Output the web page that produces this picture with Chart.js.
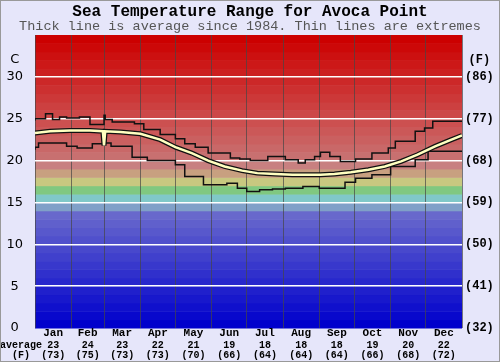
<!DOCTYPE html>
<html>
<head>
<meta charset="utf-8">
<script src="https://cdn.jsdelivr.net/npm/chart.js@4"></script>
<style>
  body { margin: 0; background: #e6e6fa; }
</style>
</head>
<body>
<canvas id="myChart" width="500" height="362"></canvas>
<script>
// months along the bottom, with the average in C and F
const months = ['Jan', 'Feb', 'Mar', 'Apr', 'May', 'Jun', 'Jul', 'Aug', 'Sep', 'Oct', 'Nov', 'Dec'];
const avgC = ['23', '24', '23', '22', '21', '19', '18', '18', '18', '19', '20', '22'];
const avgF = ['(73)', '(75)', '(73)', '(73)', '(70)', '(66)', '(64)', '(64)', '(64)', '(66)', '(68)', '(72)'];
const monthStart = [0, 31, 59, 90, 120, 151, 181, 212, 243, 273, 304, 334, 365];
const monthMid = [15.5, 45, 74.5, 105, 135.5, 166, 196.5, 227.5, 258, 288.5, 319, 349.5];

// y axis ticks
const tempTicks = [0, 5, 10, 15, 20, 25, 30];
const fahrTicks = ['(32)', '(41)', '(50)', '(59)', '(68)', '(77)', '(86)'];

// thin line: warmest (day of year, C)
const maxDays = [0, 9, 15, 21, 27, 38, 47, 59, 60, 66, 85, 93, 107, 120, 128, 137, 148, 167, 175, 184, 199, 214, 225, 231, 239, 244, 252, 261, 274, 288, 302, 308, 325, 333, 340, 353, 365];
const maxTemps = [24.8, 25.0, 25.6, 24.9, 25.2, 25.1, 25.2, 24.3, 25.4, 24.9, 24.6, 24.4, 23.7, 23.1, 22.6, 22.0, 21.6, 20.9, 20.3, 20.2, 20.0, 20.5, 20.1, 19.7, 20.1, 20.5, 21.0, 20.5, 19.9, 20.2, 20.9, 21.5, 22.3, 23.5, 23.9, 24.7, 24.7];

// thin line: coldest
const minDays = [0, 3, 27, 36, 49, 59, 65, 83, 96, 120, 128, 144, 164, 173, 181, 192, 203, 214, 229, 243, 265, 274, 288, 304, 325, 336, 350, 365];
const minTemps = [21.3, 21.6, 22.1, 21.7, 21.5, 22.0, 22.1, 21.7, 20.4, 20.0, 19.5, 18.1, 17.1, 17.3, 16.7, 16.3, 16.5, 16.6, 16.7, 16.9, 16.7, 17.4, 17.9, 18.3, 19.3, 20.1, 21.1, 21.1];

// thick line: average since 1984
const avgDays = [0, 13, 30, 47, 58, 59, 60, 73, 90, 107, 120, 134, 148, 162, 177, 190, 205, 220, 233, 244, 256, 270, 285, 299, 313, 327, 342, 356, 365];
const avgTemps = [23.3, 23.5, 23.6, 23.6, 23.5, 21.8, 23.5, 23.4, 23.2, 22.5, 21.6, 20.9, 20.0, 19.3, 18.8, 18.5, 18.4, 18.3, 18.3, 18.3, 18.4, 18.6, 18.9, 19.3, 19.9, 20.7, 21.7, 22.5, 23.0];

function toPoints(days, temps) {
  return days.map((d, i) => ({ x: d, y: temps[i] }));
}

// colour of each 1 degree band, 0 at the bottom
function bandColor(b) {
  if (b <= 13) return 'rgb(' + b * 8 + ',' + b * 8 + ',204)';
  if (b == 14) return 'rgb(128,160,200)';
  if (b == 15) return 'rgb(128,200,200)';
  if (b == 16) return 'rgb(128,200,128)';
  if (b == 17) return 'rgb(200,200,128)';
  if (b == 18) return 'rgb(200,160,128)';
  if (b == 19) return 'rgb(200,128,128)';
  const g = Math.max(0, 112 - (b - 20) * 8);
  return 'rgb(' + (200 + Math.min(4, b - 20)) + ',' + g + ',' + g + ')';
}

const bands = {
  id: 'bands',
  beforeDraw(chart) {
    const { ctx, chartArea, scales } = chart;
    ctx.save();
    ctx.fillStyle = '#e6e6fa';
    ctx.fillRect(0, 0, chart.width, chart.height);
    for (let b = 0; b < 35; b++) {
      const top = scales.y.getPixelForValue(b + 1);
      const bottom = scales.y.getPixelForValue(b);
      ctx.fillStyle = bandColor(b);
      ctx.fillRect(chartArea.left, top, chartArea.right - chartArea.left, bottom - top + 0.5);
    }
    ctx.restore();
  },
  afterDraw(chart) {
    const ctx = chart.ctx;
    ctx.save();
    ctx.fillStyle = '#000';
    ctx.font = 'bold 10px "Liberation Mono"';
    ctx.textAlign = 'center';
    ctx.textBaseline = 'middle';
    ctx.fillText('average', 21, 345);
    ctx.fillText('(F)', 21, 355);
    ctx.strokeStyle = '#999';
    ctx.lineWidth = 1;
    ctx.strokeRect(0.5, 0.5, chart.width - 1, chart.height - 1);
    ctx.restore();
  }
};

function labelAxis(weight, labels, font, height) {
  return {
    type: 'linear',
    position: 'bottom',
    weight: weight,
    min: 0,
    max: 365,
    afterBuildTicks: (s) => { s.ticks = monthMid.map((v) => ({ value: v })); },
    afterFit: (s) => { s.height = height; },
    grid: { display: false, drawTicks: false },
    border: { display: false },
    ticks: {
      autoSkip: false,
      maxRotation: 0,
      minRotation: 0,
      padding: 0,
      color: '#000',
      font: font,
      callback: (v, i) => labels[i]
    }
  };
}

Chart.defaults.font.family = '"Liberation Mono"';

new Chart(document.getElementById('myChart'), {
  type: 'line',
  data: {
    datasets: [{
      data: toPoints(avgDays, avgTemps),
      borderColor: '#ffffc0',
      borderWidth: 2.5,
      pointRadius: 0
    }, {
      data: toPoints(avgDays, avgTemps),
      borderColor: '#111',
      borderWidth: 5,
      pointRadius: 0
    }, {
      data: toPoints(maxDays, maxTemps),
      borderColor: '#111',
      borderWidth: 1.5,
      pointRadius: 0,
      stepped: 'after'
    }, {
      data: toPoints(minDays, minTemps),
      borderColor: '#111',
      borderWidth: 1.5,
      pointRadius: 0,
      stepped: 'after'
    }]
  },
  plugins: [bands],
  options: {
    responsive: false,
    animation: false,
    layout: { padding: 0 },
    plugins: {
      legend: { display: false },
      tooltip: { enabled: false },
      title: {
        display: true,
        text: 'Sea Temperature Range for Avoca Point',
        color: '#000',
        font: { size: 16, weight: 'bold', lineHeight: 1 },
        padding: { top: 4, bottom: 0 }
      },
      subtitle: {
        display: true,
        text: 'Thick line is average since 1984. Thin lines are extremes',
        color: '#555',
        font: { size: 13.5, lineHeight: 1 },
        padding: { top: 0, bottom: 1.5 }
      }
    },
    scales: {
      x: {
        type: 'linear',
        position: 'bottom',
        weight: 0,
        min: 0,
        max: 365,
        afterBuildTicks: (s) => { s.ticks = monthStart.map((v) => ({ value: v })); },
        afterFit: (s) => { s.height = 0; },
        grid: { color: 'rgba(70,70,70,0.7)', lineWidth: 1, drawTicks: false },
        border: { display: false },
        ticks: { display: false }
      },
      xm: labelAxis(1, months, { size: 11, weight: 'bold', lineHeight: 1 }, 12),
      xc: labelAxis(2, avgC, { size: 10, weight: 'bold', lineHeight: 1 }, 10),
      xf: labelAxis(3, avgF, { size: 10, weight: 'bold', lineHeight: 1 }, 12),
      y: {
        position: 'left',
        min: 0,
        max: 35,
        afterBuildTicks: (s) => { s.ticks = tempTicks.concat([32]).map((v) => ({ value: v })); },
        afterFit: (s) => { s.width = 35; },
        grid: {
          drawTicks: false,
          lineWidth: 1.5,
          color: (c) => (c.tick && c.tick.value > 0 && c.tick.value <= 30) ? '#fff' : 'rgba(0,0,0,0)'
        },
        border: { display: false },
        ticks: {
          crossAlign: 'center',
          padding: 12,
          color: '#000',
          font: { family: '"DejaVu Sans"', size: 13 },
          callback: (v) => v == 32 ? 'C' : String(v)
        }
      },
      y2: {
        position: 'right',
        min: 0,
        max: 35,
        afterBuildTicks: (s) => { s.ticks = tempTicks.concat([32]).map((v) => ({ value: v })); },
        afterFit: (s) => { s.width = 38; },
        grid: { display: false, drawTicks: false },
        border: { display: false },
        ticks: {
          crossAlign: 'center',
          padding: 3,
          color: '#000',
          font: { size: 12, weight: 'bold' },
          callback: (v) => v == 32 ? '(F)' : fahrTicks[tempTicks.indexOf(v)]
        }
      }
    }
  }
});
</script>
</body>
</html>
